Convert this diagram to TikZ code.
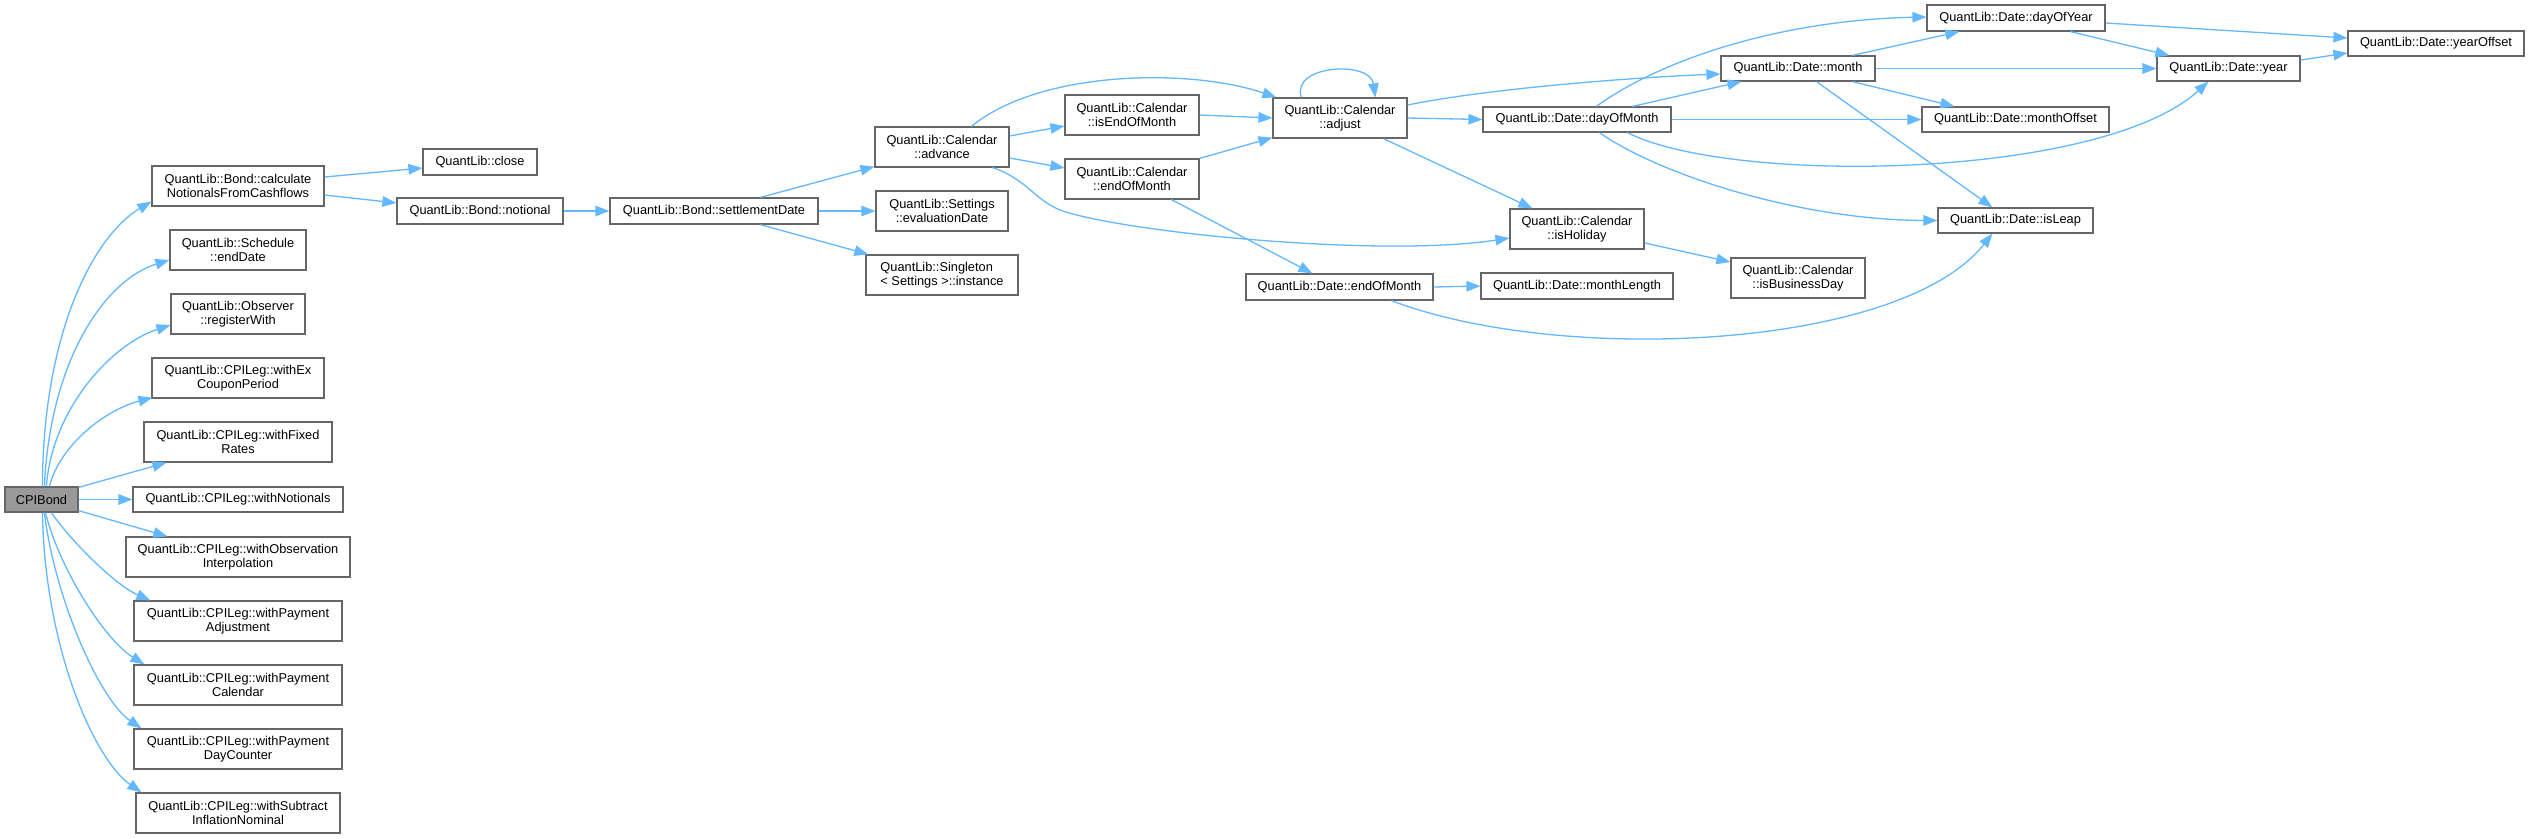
\documentclass[tikz,border=0pt]{standalone}
\usepackage{fontspec}
\setmainfont{Liberation Sans}
\usetikzlibrary{arrows.meta,calc}
\definecolor{edgecol}{HTML}{63B8FF}
\definecolor{bordercol}{HTML}{666666}
\definecolor{rootfill}{HTML}{999999}
\newcommand{\mkbox}[7][]{\node[gbox,#1,minimum width=#5pt,minimum height=#6pt] (#2) at (#3,#4) {#7};}
\begin{document}
\begin{tikzpicture}[x=1pt,y=-1pt,
  gbox/.style={draw=bordercol,fill=white,line width=1.2pt,inner sep=1pt,align=center,font=\fontsize{12.8}{14.5}\selectfont},
  clink/.style={draw=edgecol,line width=1.3pt,-{Triangle[length=14pt,width=10.5pt]}}]
\useasboundingbox[fill=white] (0,0) rectangle (2529,838);

% nodes
\mkbox[fill=rootfill]{cpi}{41.5}{499.5}{73}{25}{CPIBond}
\mkbox{calc}{238}{186}{172}{40}{QuantLib::Bond::calculate\\NotionalsFromCashflows}
\mkbox{close}{480}{162}{114}{26}{QuantLib::close}
\mkbox{notional}{480}{211}{166}{26}{QuantLib::Bond::notional}
\mkbox{endDate}{238}{250}{136}{40}{QuantLib::Schedule\\::endDate}
\mkbox{regWith}{238}{314}{134}{40}{QuantLib::Observer\\::registerWith}
\mkbox{exCoupon}{238}{378}{172}{40}{QuantLib::CPILeg::withEx\\CouponPeriod}
\mkbox{fixedRates}{238}{442}{188}{40}{QuantLib::CPILeg::withFixed\\Rates}
\mkbox{notionals}{238}{499.5}{210}{25}{QuantLib::CPILeg::withNotionals}
\mkbox{obsInterp}{238}{557}{224}{40}{QuantLib::CPILeg::withObservation\\Interpolation}
\mkbox{payAdj}{238}{621}{208}{40}{QuantLib::CPILeg::withPayment\\Adjustment}
\mkbox{payCal}{238}{685}{208}{40}{QuantLib::CPILeg::withPayment\\Calendar}
\mkbox{payDC}{238}{749}{208}{40}{QuantLib::CPILeg::withPayment\\DayCounter}
\mkbox{subInfl}{238}{813}{204}{40}{QuantLib::CPILeg::withSubtract\\InflationNominal}
\mkbox{settle}{714}{211}{208}{26}{QuantLib::Bond::settlementDate}
\mkbox{advance}{942}{147}{134}{40}{QuantLib::Calendar\\::advance}
\mkbox{evalDate}{942}{211}{132}{40}{QuantLib::Settings\\::evaluationDate}
\mkbox[align=left]{instance}{942}{275}{152}{40}{QuantLib::Singleton\\< Settings >::instance}
\mkbox{isEOM}{1132}{115}{134}{40}{QuantLib::Calendar\\::isEndOfMonth}
\mkbox{calEOM}{1132}{179}{134}{40}{QuantLib::Calendar\\::endOfMonth}
\mkbox{adjust}{1340}{118}{134}{40}{QuantLib::Calendar\\::adjust}
\mkbox{dayOfMonth}{1577}{119.5}{188}{25}{QuantLib::Date::dayOfMonth}
\mkbox{month}{1798}{68.5}{154}{25}{QuantLib::Date::month}
\mkbox{isHoliday}{1577}{229}{134}{40}{QuantLib::Calendar\\::isHoliday}
\mkbox{isBusDay}{1798}{278}{134}{40}{QuantLib::Calendar\\::isBusinessDay}
\mkbox{dateEOM}{1339.5}{287}{187}{26}{QuantLib::Date::endOfMonth}
\mkbox{monthLength}{1577}{286}{192}{26}{QuantLib::Date::monthLength}
\mkbox{dayOfYear}{2016}{18}{178}{26}{QuantLib::Date::dayOfYear}
\mkbox{yearOffset}{2436}{43.5}{176}{25}{QuantLib::Date::yearOffset}
\mkbox{year}{2228.5}{68.5}{143}{25}{QuantLib::Date::year}
\mkbox{monthOffset}{2015.5}{119.5}{187}{25}{QuantLib::Date::monthOffset}
\mkbox{isLeap}{2015.5}{220.5}{155}{25}{QuantLib::Date::isLeap}

% edges from CPIBond
\draw[clink] ($(cpi.north west)+(38,0)$) .. controls (43,330) and (95,235) .. ($(calc.south west)+(0,-5)$);
\draw[clink] ($(cpi.north west)+(40,0)$) .. controls (50,360) and (105,280) .. ($(endDate.west)+(0,10)$);
\draw[clink] ($(cpi.north west)+(42,0)$) .. controls (52,410) and (110,345) .. ($(regWith.west)+(0,11)$);
\draw[clink] ($(cpi.north west)+(45,0)$) .. controls (60,445) and (105,410) .. ($(exCoupon.south west)+(1,-1)$);
\draw[clink] ($(cpi.north east)+(0,1)$) -- ($(fixedRates.south west)+(23,0)$);
\draw[clink] (cpi.east) -- (notionals.west);
\draw[clink] ($(cpi.south east)+(0,-2)$) -- ($(obsInterp.north west)+(42,0)$);
\draw[clink] ($(cpi.south west)+(47,0)$) .. controls (70,540) and (115,585) .. ($(payAdj.north west)+(17,0)$);
\draw[clink] ($(cpi.south west)+(41,0)$) .. controls (60,570) and (105,640) .. ($(payCal.north west)+(11,0)$);
\draw[clink] ($(cpi.south west)+(40,0)$) .. controls (55,600) and (100,700) .. ($(payDC.north west)+(8,0)$);
\draw[clink] ($(cpi.south west)+(38,0)$) .. controls (45,650) and (95,760) .. ($(subInfl.north west)+(6,0)$);

% second level
\draw[clink] ($(calc.east)+(0,-9)$) -- ($(close.west)+(0,6)$);
\draw[clink] ($(calc.east)+(0,9)$) -- ($(notional.west)+(0,-8)$);
\draw[clink] (notional.east) -- (settle.west);
\draw[clink] ($(settle.north west)+(151,0)$) -- ($(advance.south west)+(0,-1)$);
\draw[clink] (settle.east) -- (evalDate.west);
\draw[clink] ($(settle.south west)+(151,0)$) -- ($(instance.north west)+(3,0)$);

% calendar
\draw[clink] ($(advance.east)+(0,-11)$) -- ($(isEOM.west)+(0,11)$);
\draw[clink] ($(advance.east)+(0,11)$) -- ($(calEOM.west)+(0,-11)$);
\draw[clink] ($(advance.north west)+(97,0)$) .. controls (1040,70) and (1190,68) .. ($(adjust.north west)+(4,0)$);
\draw[clink] ($(advance.south west)+(118,0)$) .. controls (1025,178) and (1035,200) .. (1060,210)
   .. controls (1120,232) and (1380,258) .. ($(isHoliday.west)+(0,9)$);
\draw[clink] (isEOM.east) -- (adjust.west);
\draw[clink] (calEOM.north east) -- ($(adjust.south west)+(0,-1)$);
\draw[clink] ($(calEOM.south west)+(107,0)$) -- ($(dateEOM.north west)+(67,0)$);
\draw[clink] ($(adjust.east)+(0,-13)$) .. controls (1480,90) and (1620,78) .. ($(month.west)+(0,5.5)$);
\draw[clink] (adjust.east) -- (dayOfMonth.west);
\draw[clink] ($(adjust.south west)+(111,0)$) -- ($(isHoliday.north west)+(23,0)$);
\draw[clink] ($(adjust.north west)+(29,0)$) .. controls (1290,65) and (1370,60) .. ($(adjust.north west)+(103,0)$);

% dates
\draw[clink] ($(dayOfMonth.north west)+(150,0)$) -- ($(month.south west)+(21,0)$);
\draw[clink] ($(dayOfMonth.north west)+(114,0)$) .. controls (1660,60) and (1780,20) .. ($(dayOfYear.west)+(0,-1)$);
\draw[clink] (dayOfMonth.east) -- (monthOffset.west);
\draw[clink] ($(dayOfMonth.south west)+(145,0)$) .. controls (1730,185) and (2100,180) .. ($(year.south west)+(52,0)$);
\draw[clink] ($(dayOfMonth.south west)+(117,0)$) .. controls (1660,175) and (1800,220) .. (isLeap.west);
\draw[clink] ($(month.north west)+(132,0)$) -- ($(dayOfYear.south west)+(33,0)$);
\draw[clink] (month.east) -- (year.west);
\draw[clink] ($(month.south west)+(132,0)$) -- ($(monthOffset.north west)+(33,0)$);
\draw[clink] ($(month.south west)+(96,0)$) -- ($(isLeap.north west)+(55,0)$);
\draw[clink] ($(dayOfYear.east)+(0,5)$) -- ($(yearOffset.west)+(0,-5.5)$);
\draw[clink] ($(dayOfYear.south west)+(144,0)$) -- ($(year.north west)+(13,0)$);
\draw[clink] ($(year.east)+(0,-8.5)$) -- ($(yearOffset.west)+(0,9.5)$);
\draw[clink] ($(isHoliday.east)+(0,14)$) -- ($(isBusDay.west)+(0,-16)$);
\draw[clink] (dateEOM.east) -- (monthLength.west);
\draw[clink] ($(dateEOM.south west)+(146,0)$) .. controls (1560,365) and (1900,350) .. ($(isLeap.south west)+(55,0)$);
\end{tikzpicture}
\end{document}
